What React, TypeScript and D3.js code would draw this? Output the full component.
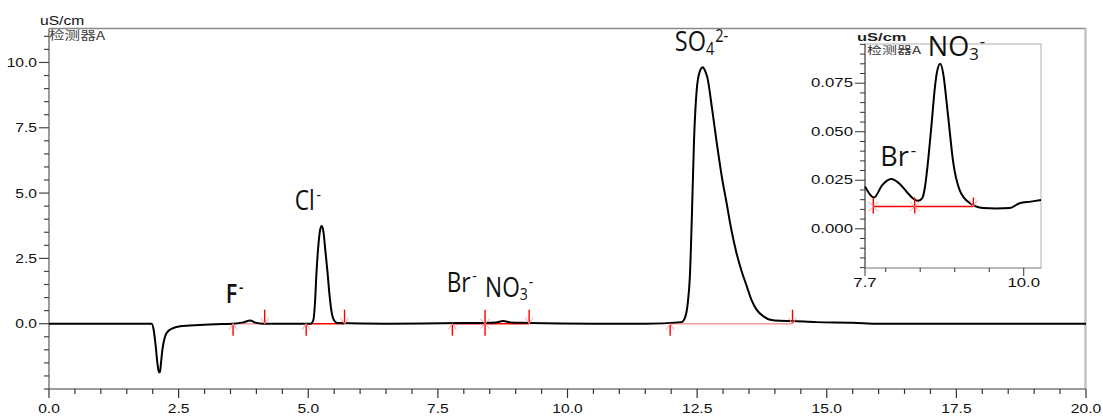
import React from 'react';
import * as d3 from 'd3';

// main chromatogram (time in min, conductivity in uS/cm)
const mainTimes = [
    0, 1.0, 1.9, 1.98, 2.02, 2.06, 2.09, 2.12, 2.14, 2.16, 2.19, 2.24, 2.3, 2.37, 2.53, 2.91, 3.4,
    3.55, 3.75, 3.88, 3.98, 4.13, 4.6, 5.05, 5.1, 5.13, 5.16, 5.2, 5.23, 5.26, 5.29, 5.33, 5.37, 5.41,
    5.45, 5.5, 5.56, 6.5, 7.6, 8.4, 8.62, 8.76, 8.9, 9.25, 10.5, 11.5, 12.2, 12.27, 12.32, 12.36, 12.4,
    12.44, 12.49, 12.55, 12.61, 12.66, 12.7, 12.79, 12.88, 12.97, 13.07, 13.16, 13.26, 13.36, 13.46,
    13.55, 13.65, 13.78, 13.91, 14.1, 14.32, 14.8, 15.5, 16.0, 20.0,
];
const mainSignal = [
    0, 0, 0, 0, -0.25, -0.9, -1.5, -1.85, -1.86, -1.5, -0.95, -0.48, -0.28, -0.19, -0.1, -0.05, -0.01,
    0, 0.05, 0.12, 0.04, 0, 0, 0, 0.15, 0.8, 2.0, 3.1, 3.6, 3.74, 3.55, 2.8, 2.0, 1.1,
    0.45, 0.12, 0.03, 0, 0.02, 0.03, 0.05, 0.1, 0.05, 0.03, 0, 0, 0.06, 0.25, 0.8, 1.8, 4.2,
    7.0, 8.9, 9.65, 9.82, 9.65, 9.4, 8.2, 6.9, 5.7, 4.6, 3.6, 2.7, 2.0, 1.42,
    0.9, 0.53, 0.28, 0.15, 0.11, 0.1, 0.06, 0.04, 0, 0,
];

// integration marks on the main trace
const markTimes = [3.55, 4.16, 4.96, 5.7, 7.78, 8.41, 9.26, 11.98, 14.34];
const markKinds = ['start', 'end', 'start', 'end', 'start', 'both', 'end', 'start', 'end'];
const baseFrom = [3.55, 4.96, 7.78, 8.41, 11.98];
const baseTo = [4.16, 5.7, 8.41, 9.26, 14.34];
const baseFaint = [true, false, false, false, true];

// peak labels
const ionBase = ['F', 'Cl', 'Br', 'NO', 'SO'];
const ionSub = ['', '', '', '3', '4'];
const ionSup = ['-', '-', '-', '-', '2-'];
const ionT = [3.41, 4.74, 7.67, 8.41, 12.07];
const ionV = [0.79, 4.36, 1.23, 1.04, 10.42];

// zoomed inset (7.7 - 10.2 min)
const insetTimes = [
    7.7, 7.83, 7.95, 8.08, 8.2, 8.3, 8.4, 8.47, 8.53, 8.57, 8.62, 8.67, 8.71, 8.74, 8.79, 8.84, 8.88,
    8.91, 8.98, 9.07, 9.22, 9.41, 9.6, 9.8, 9.94, 10.1, 10.25,
];
const insetSignal = [
    0.0218, 0.0161, 0.0225, 0.0256, 0.0232, 0.0192, 0.0155, 0.0144, 0.0158, 0.0218, 0.037, 0.0561,
    0.072, 0.0802, 0.085, 0.0784, 0.066, 0.0561, 0.0338, 0.0201, 0.0132, 0.0107, 0.0105, 0.0107,
    0.0132, 0.014, 0.0148,
];
const insetMarkTimes = [7.82, 8.42, 9.27];
const insetMarkKinds = ['both', 'both', 'end'];
const insetBaseLevel = 0.0115;
const insetIonBase = ['Br', 'NO'];
const insetIonSub = ['', '3'];
const insetIonSup = ['-', '-'];
const insetIonT = [7.92, 8.61];
const insetIonV = [0.0321, 0.0891];

const insetYTicks = d3.range(-4, 20).map((k) => k * 0.005);
const insetXTicks = [7.7, 8.0, 8.5, 9.0, 9.5, 10.0];
const insetXLabels = [7.7, 10.0];

const RED = '#ff0000';
const PINK = '#ff9a9a';

function Ion({ x, y, base, sub, sup, size, sx, weight }) {
    return (
        <text
            transform={`translate(${x},${y}) scale(${sx},1)`}
            fontSize={size}
            fontFamily="'Open Sans', 'Noto Sans', sans-serif"
            fontWeight={weight}
            fill="#111"
        >
            {base}
            {sub ? (
                <tspan fontSize={size * 0.62} dy={size * 0.14}>
                    {sub}
                </tspan>
            ) : null}
            <tspan fontSize={size * 0.62} dx={sub ? 1 : 2} dy={sub ? -size * 0.48 : -size * 0.38}>
                {sup}
            </tspan>
        </text>
    );
}

function Mark({ x, y, kind, up = 14, down = 12 }) {
    const parts = [];
    if (kind === 'start' || kind === 'both') {
        parts.push(<line key="d" x1={x} x2={x} y1={y} y2={y + down} stroke={RED} strokeWidth={1.4} />);
    }
    if (kind === 'end' || kind === 'both') {
        parts.push(<line key="u" x1={x} x2={x} y1={y - up} y2={y} stroke={RED} strokeWidth={1.4} />);
    }
    let chev;
    if (kind === 'start') chev = `M${x - 4},${y + 6}L${x},${y}L${x + 4},${y + 6}`;
    else if (kind === 'end') chev = `M${x - 4},${y - 6}L${x},${y}L${x + 4},${y - 6}`;
    else chev = `M${x - 5},${y - 5}L${x + 5},${y + 5}M${x + 5},${y - 5}L${x - 5},${y + 5}`;
    parts.push(<path key="c" d={chev} fill="none" stroke={PINK} strokeWidth={1} />);
    return <g>{parts}</g>;
}

export default function App() {
    const W = 1103;
    const H = 416;

    const x = d3.scaleLinear().domain([0, 20]).range([49, 1086]);
    const y = d3.scaleLinear().domain([-2.5, 11.3]).range([389, 28.5]);

    const xi = d3.scaleLinear().domain([7.7, 10.25]).range([865, 1041]);
    const yi = d3.scaleLinear().domain([-0.0202, 0.0952]).range([268, 44]);

    const line = d3
        .line()
        .x((d) => x(d[0]))
        .y((d) => y(d[1]))
        .curve(d3.curveMonotoneX);
    const insetLine = d3
        .line()
        .x((d) => xi(d[0]))
        .y((d) => yi(d[1]))
        .curve(d3.curveMonotoneX);

    const mainPts = mainTimes.map((t, i) => [t, mainSignal[i]]);
    const insetPts = insetTimes.map((t, i) => [t, insetSignal[i]]);

    // -2.5 gets a long tick but no label, as in the instrument printout
    const yTicks = d3.range(-5, 23).map((k) => ({ v: k / 2, major: k % 5 === 0, label: k % 5 === 0 && k >= 0 }));
    const xTicks = d3.range(0, 41).map((k) => ({ v: k / 2, major: k % 5 === 0 }));
    const fmt = d3.format('.1f');
    const fmt3 = d3.format('.3f');

    const labelFont = "'Liberation Sans', Arial, sans-serif";

    return (
        <div style={{ position: 'absolute', left: 0, top: 0 }}>
            <svg width={W} height={H} style={{ display: 'block', background: '#fff' }}>
                {/* frame */}
                <line x1={49} x2={1086} y1={28.5} y2={28.5} stroke="#8a8a8a" strokeWidth={1.5} />
                <line x1={1085.5} x2={1085.5} y1={28.5} y2={389} stroke="#c4c4c4" strokeWidth={2.5} />
                <line x1={49} x2={49} y1={28.5} y2={389} stroke="#7a7a7a" strokeWidth={1.5} />
                <line x1={49} x2={1086} y1={389} y2={389} stroke="#7a7a7a" strokeWidth={1.5} />

                {/* y axis */}
                {yTicks.map((d) => (
                    <g key={'y' + d.v}>
                        <line
                            x1={d.label ? 39 : 44}
                            x2={49}
                            y1={y(d.v)}
                            y2={y(d.v)}
                            stroke="#444"
                            strokeWidth={1.2}
                        />
                        {d.label ? (
                            <text
                                transform={`translate(37,${y(d.v) + 4.5}) scale(1.2,1)`}
                                textAnchor="end"
                                fontSize={13}
                                fontFamily={labelFont}
                                fill="#111"
                            >
                                {fmt(d.v)}
                            </text>
                        ) : null}
                    </g>
                ))}

                {/* x axis */}
                {xTicks.map((d) => (
                    <g key={'x' + d.v}>
                        <line
                            x1={x(d.v)}
                            x2={x(d.v)}
                            y1={389}
                            y2={d.major ? 398 : 394}
                            stroke="#333"
                            strokeWidth={1.2}
                        />
                        {d.major ? (
                            <text
                                transform={`translate(${x(d.v)},413) scale(1.2,1)`}
                                textAnchor="middle"
                                fontSize={13}
                                fontFamily={labelFont}
                                fill="#111"
                            >
                                {fmt(d.v)}
                            </text>
                        ) : null}
                    </g>
                ))}

                <text transform="translate(40,25) scale(1.2,1)" fontSize={13} fontFamily={labelFont} fill="#111">
                    uS/cm
                </text>
                <text
                    transform="translate(49,40) scale(1.3,1)"
                    fontSize={12}
                    fontFamily="'Noto Sans CJK SC', serif"
                    fill="#444"
                >
                    检测器A
                </text>

                {/* integration baselines */}
                {baseFrom.map((t, i) => (
                    <line
                        key={'b' + i}
                        x1={x(t)}
                        x2={x(baseTo[i])}
                        y1={y(0)}
                        y2={y(0)}
                        stroke={baseFaint[i] ? PINK : RED}
                        strokeWidth={1.5}
                    />
                ))}

                {/* trace */}
                <path d={line(mainPts)} fill="none" stroke="#000" strokeWidth={2} strokeLinejoin="round" />

                {markTimes.map((t, i) => (
                    <Mark key={'m' + i} x={x(t)} y={y(0)} kind={markKinds[i]} />
                ))}

                {ionBase.map((b, i) => (
                    <Ion
                        key={'ion' + i}
                        x={x(ionT[i])}
                        y={y(ionV[i])}
                        base={b}
                        sub={ionSub[i]}
                        sup={ionSup[i]}
                        size={b === 'SO' ? 28 : 27}
                        sx={b === 'F' ? 0.8 : 0.84}
                        weight={b === 'F' ? 600 : 400}
                    />
                ))}

                {/* inset */}
                <rect x={865} y={44} width={176} height={224} fill="#fff" stroke="#bdbdbd" strokeWidth={1.2} />
                <line x1={865} x2={865} y1={44} y2={268} stroke="#555" strokeWidth={1.2} />
                <line x1={865} x2={1041} y1={268} y2={268} stroke="#9a9a9a" strokeWidth={1.2} />
                {insetYTicks.map((v, k) => {
                    const major = Math.round(v * 1000) % 25 === 0;
                    return (
                        <g key={'iy' + k}>
                            <line
                                x1={major ? 855 : 860}
                                x2={865}
                                y1={yi(v)}
                                y2={yi(v)}
                                stroke="#333"
                                strokeWidth={1}
                            />
                            {major ? (
                                <text
                                    transform={`translate(853,${yi(v) + 4}) scale(1.4,1)`}
                                    textAnchor="end"
                                    fontSize={12}
                                    fontFamily={labelFont}
                                    fill="#111"
                                >
                                    {fmt3(v)}
                                </text>
                            ) : null}
                        </g>
                    );
                })}
                {insetXTicks.map((v) => {
                    const labelled = insetXLabels.includes(v);
                    return (
                        <g key={'ix' + v}>
                            <line
                                x1={xi(v)}
                                x2={xi(v)}
                                y1={268}
                                y2={labelled ? 276 : 272}
                                stroke="#333"
                                strokeWidth={1}
                            />
                            {labelled ? (
                                <text
                                    transform={`translate(${xi(v)},287) scale(1.4,1)`}
                                    textAnchor="middle"
                                    fontSize={12}
                                    fontFamily={labelFont}
                                    fill="#111"
                                >
                                    {fmt(v)}
                                </text>
                            ) : null}
                        </g>
                    );
                })}
                <text
                    transform="translate(857,40.5) scale(1.5,1)"
                    fontSize={11}
                    fontWeight={700}
                    fontFamily={labelFont}
                    fill="#222"
                >
                    uS/cm
                </text>
                <text
                    transform="translate(867,54) scale(1.5,1)"
                    fontSize={10}
                    fontFamily="'Noto Sans CJK SC', serif"
                    fill="#333"
                >
                    检测器A
                </text>

                <line
                    x1={xi(insetMarkTimes[0])}
                    x2={xi(insetMarkTimes[insetMarkTimes.length - 1])}
                    y1={yi(insetBaseLevel)}
                    y2={yi(insetBaseLevel)}
                    stroke={RED}
                    strokeWidth={1.5}
                />
                <path d={insetLine(insetPts)} fill="none" stroke="#000" strokeWidth={2} strokeLinejoin="round" />
                {insetMarkTimes.map((t, i) => (
                    <Mark
                        key={'im' + i}
                        x={xi(t)}
                        y={yi(insetBaseLevel)}
                        kind={insetMarkKinds[i]}
                        up={9}
                        down={7}
                    />
                ))}
                {insetIonBase.map((b, i) => (
                    <Ion
                        key={'iion' + i}
                        x={xi(insetIonT[i])}
                        y={yi(insetIonV[i])}
                        base={b}
                        sub={insetIonSub[i]}
                        sup={insetIonSup[i]}
                        size={27}
                        sx={1.0}
                        weight={400}
                    />
                ))}
            </svg>
        </div>
    );
}
